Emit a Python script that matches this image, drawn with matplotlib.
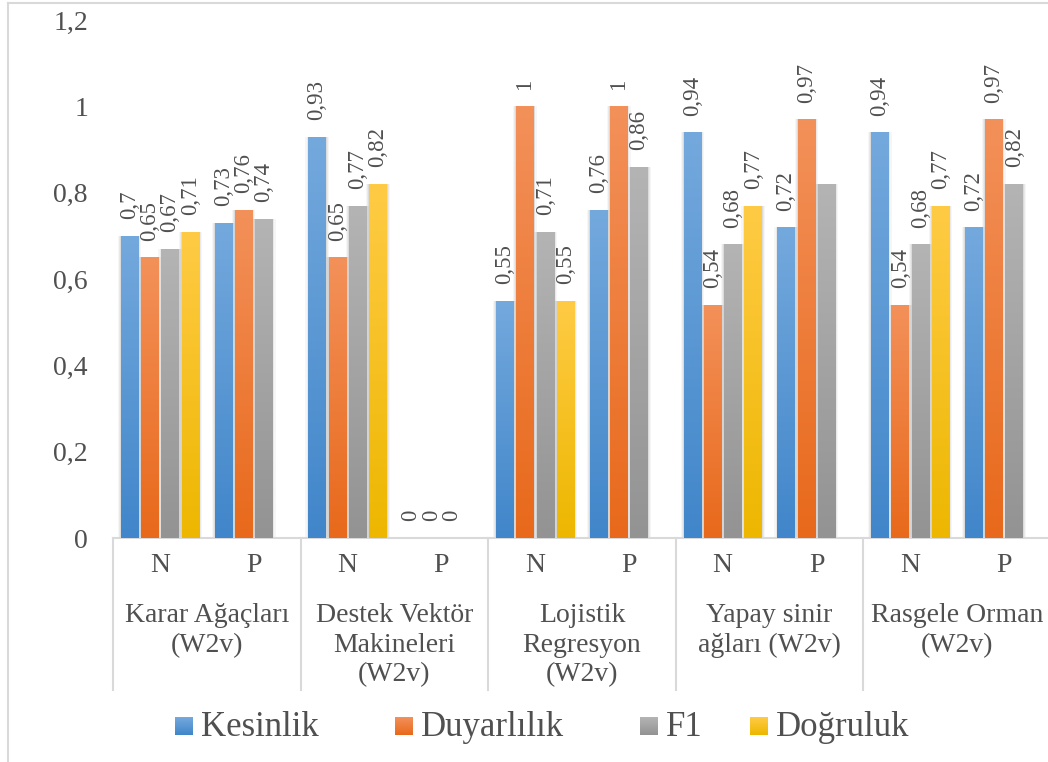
import numpy as np
import matplotlib
matplotlib.use("Agg")
import matplotlib.pyplot as plt
from matplotlib.patches import Rectangle
from matplotlib.lines import Line2D
from matplotlib.colors import LinearSegmentedColormap, to_rgb

# ---------------- data ----------------
groups = ["Karar Ağaçları\n(W2v)", "Destek Vektör\nMakineleri\n(W2v)",
          "Lojistik\nRegresyon\n(W2v)", "Yapay sinir\nağları (W2v)",
          "Rasgele Orman\n(W2v)"]
subcats = ["N", "P", "N", "P", "N", "P", "N", "P", "N", "P"]
series_names = ["Kesinlik", "Duyarlılık", "F1", "Doğruluk"]
nan = np.nan
kesinlik = [0.70, 0.73, 0.93, 0.0, 0.55, 0.76, 0.94, 0.72, 0.94, 0.72]
duyarlilik = [0.65, 0.76, 0.65, 0.0, 1.00, 1.00, 0.54, 0.97, 0.54, 0.97]
f1 = [0.67, 0.74, 0.77, 0.0, 0.71, 0.86, 0.68, 0.82, 0.68, 0.82]
dogruluk = [0.71, nan, 0.82, nan, 0.55, nan, 0.77, nan, 0.77, nan]
# data labels hidden in the original (series index, category index)
hidden_labels = [(2, 7)]
y_ticks = [0, 0.2, 0.4, 0.6, 0.8, 1.0, 1.2]

series = [kesinlik, duyarlilik, f1, dogruluk]
grad_top = ["#74A9DD", "#F3915A", "#B4B4B4", "#FFCB45"]
grad_bot = ["#4186CA", "#E8691B", "#939393", "#EDB700"]

FONT = ["Liberation Serif", "DejaVu Serif"]
plt.rcParams["font.family"] = FONT
TXT = "#505050"

W, H = 1048, 762
fig = plt.figure(figsize=(W / 100, H / 100), dpi=100)
left_px, right_px, top_px, base_px = 113, 1048, 20, 538
slot_px = 93.8
ax = fig.add_axes([left_px / W, (H - base_px) / H,
                   (right_px - left_px) / W, (base_px - top_px) / H])
XLIM = (-0.5, -0.5 + (right_px - left_px) / slot_px)
ax.set_ylim(0, 1.2)

bar_w = 17.5 / slot_px
pitch = 20.3 / slot_px
x = np.arange(len(subcats))

for si, vals in enumerate(series):
    cmap = LinearSegmentedColormap.from_list(
        "g%d" % si, [to_rgb(grad_bot[si]), to_rgb(grad_top[si])])
    offs = (si - 1.5) * pitch
    bars = ax.bar(x + offs, vals, width=bar_w, color="none",
                  edgecolor="none", zorder=3)
    for ci, (b, v) in enumerate(zip(bars, vals)):
        if np.isnan(v):
            continue
        if v > 0:
            bx, bw = b.get_x(), b.get_width()
            # soft shadow at the sides
            for k, a in [(3.0, 0.035), (1.8, 0.05), (0.8, 0.06)]:
                d = k / slot_px
                ax.add_patch(Rectangle((bx - d, 0), bw + 2 * d, v,
                                       facecolor="#000000", alpha=a,
                                       edgecolor="none", zorder=2))
            grad = np.linspace(0, 1, 256).reshape(-1, 1)
            im = ax.imshow(grad, cmap=cmap, origin="lower", aspect="auto",
                           extent=[bx, bx + bw, 0, v], zorder=3,
                           interpolation="bilinear")
            im.set_clip_path(b)
        if (si, ci) in hidden_labels:
            continue
        lab = ("%g" % v).replace(".", ",")
        ax.annotate(lab, (x[ci] + offs, v), xytext=(0, 12),
                    textcoords="offset points", rotation=90,
                    ha="center", va="bottom", fontsize=16.5, color=TXT,
                    zorder=5, annotation_clip=False)

ax.set_xlim(*XLIM)

# axes styling
for s in ["top", "right", "left"]:
    ax.spines[s].set_visible(False)
ax.spines["bottom"].set_color("#D9D9D9")
ax.spines["bottom"].set_linewidth(1.5)
ax.set_yticks(y_ticks)
ax.set_yticklabels([("%g" % t).replace(".", ",") for t in y_ticks],
                   fontsize=20, color=TXT)
ax.tick_params(axis="y", length=0, pad=18)
ax.set_xticks([])

tr = ax.get_xaxis_transform()
axh = base_px - top_px
for ci, s in enumerate(subcats):
    ax.text(x[ci], -(566 - base_px) / axh, s, transform=tr, ha="center",
            va="center", fontsize=20, color=TXT)
for gi, g in enumerate(groups):
    ax.text(2 * gi + 0.5, -(603 - base_px) / axh, g, transform=tr,
            ha="center", va="top", fontsize=20, color=TXT, linespacing=1.25)
for b in np.arange(-0.5, 10, 2):
    ax.add_line(Line2D([b, b], [0, -(690 - base_px) / axh], transform=tr,
                       color="#D9D9D9", lw=1.5, clip_on=False))

# legend (manual placement to mimic the original spacing)
leg_sq_x = [175, 395, 640, 750]
leg_y = 726
sq = 18
for i, name in enumerate(series_names):
    cmap = LinearSegmentedColormap.from_list(
        "l%d" % i, [to_rgb(grad_bot[i]), to_rgb(grad_top[i])])
    lax = fig.add_axes([leg_sq_x[i] / W, (H - leg_y - sq / 2) / H, sq / W, sq / H])
    lax.imshow(np.linspace(0, 1, 64).reshape(-1, 1), cmap=cmap, origin="lower",
               aspect="auto", interpolation="bilinear")
    lax.axis("off")
    fig.text((leg_sq_x[i] + sq + 8) / W, 1 - (leg_y + 1) / H, name,
             ha="left", va="center", fontsize=25, color=TXT)

# outer chart border (left and top visible)
fig.add_artist(Line2D([8 / W, 8 / W], [0, 1 - 3 / H], color="#D9D9D9", lw=1.5))
fig.add_artist(Line2D([8 / W, 1], [1 - 3 / H, 1 - 3 / H], color="#D9D9D9", lw=1.5))

fig.savefig("out.png", dpi=100, facecolor="white")
